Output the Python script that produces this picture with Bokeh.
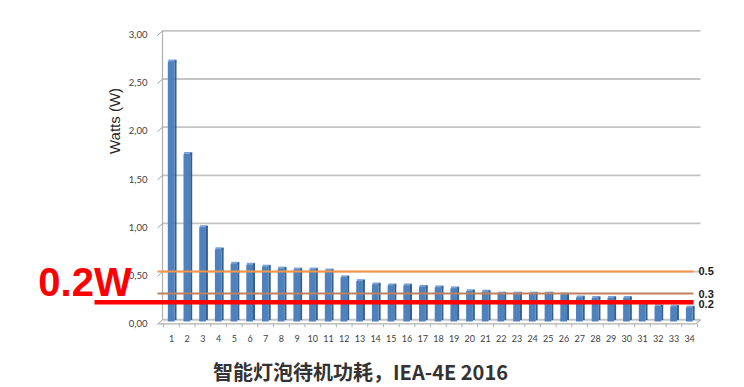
import numpy as np
from bokeh.plotting import figure
from bokeh.core.properties import value
from bokeh.embed import file_html
from bokeh.resources import INLINE

# ---------------- data ----------------
categories = [str(i) for i in range(1, 35)]
watts = [2.70, 1.74, 0.98, 0.75, 0.60, 0.59, 0.57, 0.55, 0.54, 0.54,
         0.53, 0.46, 0.42, 0.385, 0.375, 0.375, 0.36, 0.355, 0.345, 0.315,
         0.31, 0.29, 0.29, 0.29, 0.29, 0.28, 0.25, 0.245, 0.245, 0.245,
         0.18, 0.16, 0.155, 0.145]
y_ticks = [0.0, 0.5, 1.0, 1.5, 2.0, 2.5, 3.0]
y_tick_labels = ["0,00", "0,50", "1,00", "1,50", "2,00", "2,50", "3,00"]
ref_values = [0.52, 0.29, 0.20]
ref_labels = ["0.5", "0.3", "0.2"]
title_text = "智能灯泡待机功耗，IEA-4E 2016"
y_title = "Watts (W)"
callout = "0.2W"

# ---------------- layout ----------------
W, H = 740, 386
PX_X = 15.7          # pixels per category
PX_Y = 96.3          # pixels per watt
X0_PAGE = 171.0      # page x of category 1
Y0_PAGE = 321.0      # page y of value 0


def to_x(px):
    return 1 + (px - X0_PAGE) / PX_X


def to_y(py):
    return (Y0_PAGE - py) / PX_Y


x_start = to_x(0)
x_end = x_start + W / PX_X
y_end = to_y(0)
y_start = y_end - H / PX_Y

p = figure(width=W, height=H, x_range=(x_start, x_end), y_range=(y_start, y_end),
           x_axis_location=None, y_axis_location=None, min_border=0,
           toolbar_location=None, output_backend="svg")
p.outline_line_color = None
p.background_fill_color = "white"
p.border_fill_color = "white"
p.grid.visible = False

back_dy = 0.018
front_dy = -0.025
wall_left = to_x(162)
wall_right = to_x(700)
floor_left = to_x(157)
floor_right = to_x(695)

# back-wall gridlines
p.segment(x0=[wall_left] * len(y_ticks), x1=[wall_right] * len(y_ticks),
          y0=[t + back_dy for t in y_ticks], y1=[t + back_dy for t in y_ticks],
          line_color="#C4C4C4", line_width=1.8)
# y axis line
p.segment(x0=[wall_left], x1=[wall_left], y0=[back_dy], y1=[y_ticks[-1] + back_dy],
          line_color="#B0B0B0", line_width=1.2)
# diagonal ticks
p.segment(x0=[floor_left] * len(y_ticks), x1=[wall_left] * len(y_ticks),
          y0=[t - 0.03 for t in y_ticks], y1=[t + back_dy for t in y_ticks],
          line_color="#A0A0A0", line_width=1)
# floor front edge + right diagonal
p.segment(x0=[floor_left, floor_right], x1=[floor_right, wall_right],
          y0=[front_dy, front_dy], y1=[front_dy, back_dy],
          line_color="#B0B0B0", line_width=1.2)
# x ticks
xt = [i + 0.5 for i in range(0, len(categories) + 1)]
p.segment(x0=xt, x1=xt, y0=[front_dy] * len(xt), y1=[front_dy - 0.035] * len(xt),
          line_color="#B0B0B0", line_width=1)

# ---------------- 3D-ish bars ----------------
xs = np.arange(1, len(watts) + 1)
vals = np.array(watts)
front_w = 0.43
p.quad(left=xs - 0.20, right=xs + 0.32, bottom=vals - 0.01, top=vals + 0.02,
       fill_color="#7BA3D6", line_color=None)
p.quad(left=xs + 0.19, right=xs + 0.32, bottom=np.full(len(xs), 0.015), top=vals + 0.012,
       fill_color="#365F91", line_color=None)
p.vbar(x=xs - 0.02, width=front_w, bottom=0, top=vals,
       fill_color="#4F81BD", line_color=None)

# ---------------- reference lines ----------------
ref_colors = ["#F79646", "#C0805E", "#FF0000"]
ref_widths = [2, 2, 4.5]
ref_starts = [to_x(157), to_x(157), to_x(94)]
ref_end = to_x(693)
for v, c, w, s in zip(ref_values, ref_colors, ref_widths, ref_starts):
    p.segment(x0=[s], x1=[ref_end], y0=[v], y1=[v], line_color=c, line_width=w)

label_offsets = [0, 0, 2]
for v, lab, off in zip(ref_values, ref_labels, label_offsets):
    p.text(x=[to_x(698)], y=[v], text=[lab], y_offset=off,
           text_font=value("Liberation Sans"), text_font_style="bold",
           text_font_size="11px", text_color="#1A1A1A",
           text_align="left", text_baseline="middle")

# ---------------- texts ----------------
p.text(x=[to_x(147)] * len(y_ticks), y=y_ticks, text=y_tick_labels, y_offset=2,
       text_font=value("Lato"), text_font_size="9.5px", text_color="#404040",
       text_align="right", text_baseline="middle")
p.text(x=xs, y=[to_y(338)] * len(xs), text=categories,
       text_font=value("Lato"), text_font_size="9px", text_color="#404040",
       text_align="center", text_baseline="middle")
p.text(x=[to_x(113.5)], y=[to_y(120.5)], text=[y_title], angle=np.pi / 2,
       text_font=value("Liberation Sans"), text_font_size="15px", text_color="#262626",
       text_align="center", text_baseline="middle")
p.text(x=[to_x(360)], y=[to_y(370.5)], text=[title_text],
       text_font=value("Noto Sans CJK SC"), text_font_style="bold",
       text_font_size="20px", text_color="#333333",
       text_align="center", text_baseline="middle")
p.text(x=[to_x(84.5)], y=[to_y(281.5)], text=[callout],
       text_font=value("Liberation Sans"), text_font_style="bold",
       text_font_size="40px", text_color="#FF0000",
       text_align="center", text_baseline="middle")

open("out.html", "w").write(file_html(p, INLINE))
